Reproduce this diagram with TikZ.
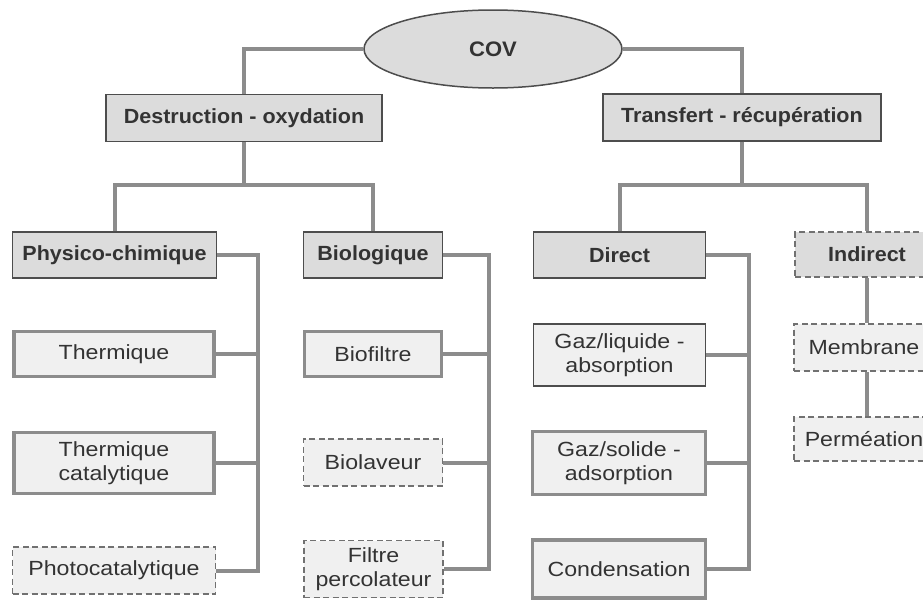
\documentclass[tikz,border=0pt]{standalone}
\usepackage{fontspec}
\setmainfont{Liberation Sans}[FakeStretch=1.13]
\newfontfamily\hdfont{Liberation Sans}[FakeStretch=1.05]
\usetikzlibrary{shapes.geometric}
\definecolor{hdfill}{HTML}{DCDCDC}
\definecolor{lffill}{HTML}{F0F0F0}
\definecolor{txt}{HTML}{333333}
\definecolor{conn}{HTML}{8C8C8C}
\definecolor{edge}{HTML}{4D4D4D}
\tikzset{
  base/.style={rectangle, inner sep=0pt, align=center, text=txt,
    font=\fontsize{20.5}{24}\selectfont},
  header/.style={base, fill=hdfill, draw=edge, line width=1.2pt,
    font=\hdfont\bfseries\fontsize{20.5}{24}\selectfont},
  headerdash/.style={header, dash pattern=on 6pt off 3.5pt, draw=edge!80},
  leafthick/.style={base, fill=lffill, draw=conn, line width=3.5pt},
  leafthin/.style={base, fill=lffill, draw=edge, line width=1.2pt},
  leafdash/.style={base, fill=lffill, draw=edge!80, line width=1.2pt, dash pattern=on 6pt off 3.5pt},
  wire/.style={draw=conn, line width=4pt},
}
\begin{document}
\begin{tikzpicture}[x=1pt,y=-1pt]
\useasboundingbox (0,0) rectangle (923,600);
\clip (0,0) rectangle (923,600);
\fill[white] (0,0) rectangle (923,600);
% top
\node[ellipse, fill=hdfill, draw=edge, line width=1.5pt, minimum width=258pt, minimum height=78pt, inner sep=0pt,
  text=txt, font=\hdfont\bfseries\fontsize{21}{24}\selectfont] (cov) at (493,49) {COV};
\node[header, minimum width=276pt, minimum height=47pt] (dest) at (244,118) {Destruction - oxydation};
\node[header, minimum width=278pt, minimum height=47pt] (trans) at (742,117.5) {Transfert - récupération};
% second level
\node[header, minimum width=204pt, minimum height=46pt] (phys) at (114.5,255) {Physico-chimique};
\node[header, minimum width=139pt, minimum height=46pt] (bio) at (373,255) {Biologique};
\node[header, minimum width=172pt, minimum height=46pt] (direct) at (619.5,255) {Direct};
\node[headerdash, minimum width=144pt, minimum height=45pt] (indirect) at (867,254.5) {Indirect};
% leaves physico
\node[leafthick, minimum width=200pt, minimum height=45pt] (therm) at (114,354) {Thermique};
\node[leafthick, minimum width=200pt, minimum height=61pt] (thermcat) at (114,463) {Thermique\\catalytique};
\node[leafdash, minimum width=203pt, minimum height=47pt] (photo) at (114,570.5) {Photocatalytique};
% leaves bio
\node[leafthick, minimum width=137pt, minimum height=45pt] (biofil) at (373,354) {Biofiltre};
\node[leafdash, minimum width=139pt, minimum height=47pt] (biolav) at (373,462.5) {Biolaveur};
\node[leafdash, minimum width=139pt, minimum height=57pt] (filtre) at (373.5,569) {Filtre\\percolateur};
% leaves direct
\node[leafthin, minimum width=172pt, minimum height=62pt] (gazliq) at (619.5,355) {Gaz/liquide -\\absorption};
\node[leafthick, minimum width=173pt, minimum height=63pt] (gazsol) at (619,463) {Gaz/solide -\\adsorption};
\node[leafthick, minimum width=173pt, minimum height=58pt] (cond) at (619,569) {Condensation};
% leaves indirect
\node[leafdash, minimum width=140pt, minimum height=47pt] (membr) at (864,347.5) {Membrane};
\node[leafdash, minimum width=140pt, minimum height=44pt] (perm) at (864,439) {Perméation};
% junction coordinates
\coordinate (dj) at (244,185);
\coordinate (tj) at (742,185);
\coordinate (pbus) at (258,0);
\coordinate (bbus) at (489,0);
\coordinate (dbus) at (749,0);
% connectors
\draw[wire] (cov.west) -| (dest.north);
\draw[wire] (cov.east) -| (trans.north);
\draw[wire] (dest.south) -- (dj);
\draw[wire] (phys.north) |- (dj) -| (bio.north);
\draw[wire] (trans.south) -- (tj);
\draw[wire] (direct.north) |- (tj) -| (indirect.north);
\draw[wire] (phys.east) -- (phys.east -| pbus) |- (photo.east);
\draw[wire] (therm.east) -- (therm.east -| pbus);
\draw[wire] (thermcat.east) -- (thermcat.east -| pbus);
\draw[wire] (bio.east) -- (bio.east -| bbus) |- (filtre.east);
\draw[wire] (biofil.east) -- (biofil.east -| bbus);
\draw[wire] (biolav.east) -- (biolav.east -| bbus);
\draw[wire] (direct.east) -- (direct.east -| dbus) |- (cond.east);
\draw[wire] (gazliq.east) -- (gazliq.east -| dbus);
\draw[wire] (gazsol.east) -- (gazsol.east -| dbus);
\draw[wire] (indirect.south) -- (indirect.south |- membr.north);
\draw[wire] (indirect.south |- membr.south) -- (indirect.south |- perm.north);
\end{tikzpicture}
\end{document}
